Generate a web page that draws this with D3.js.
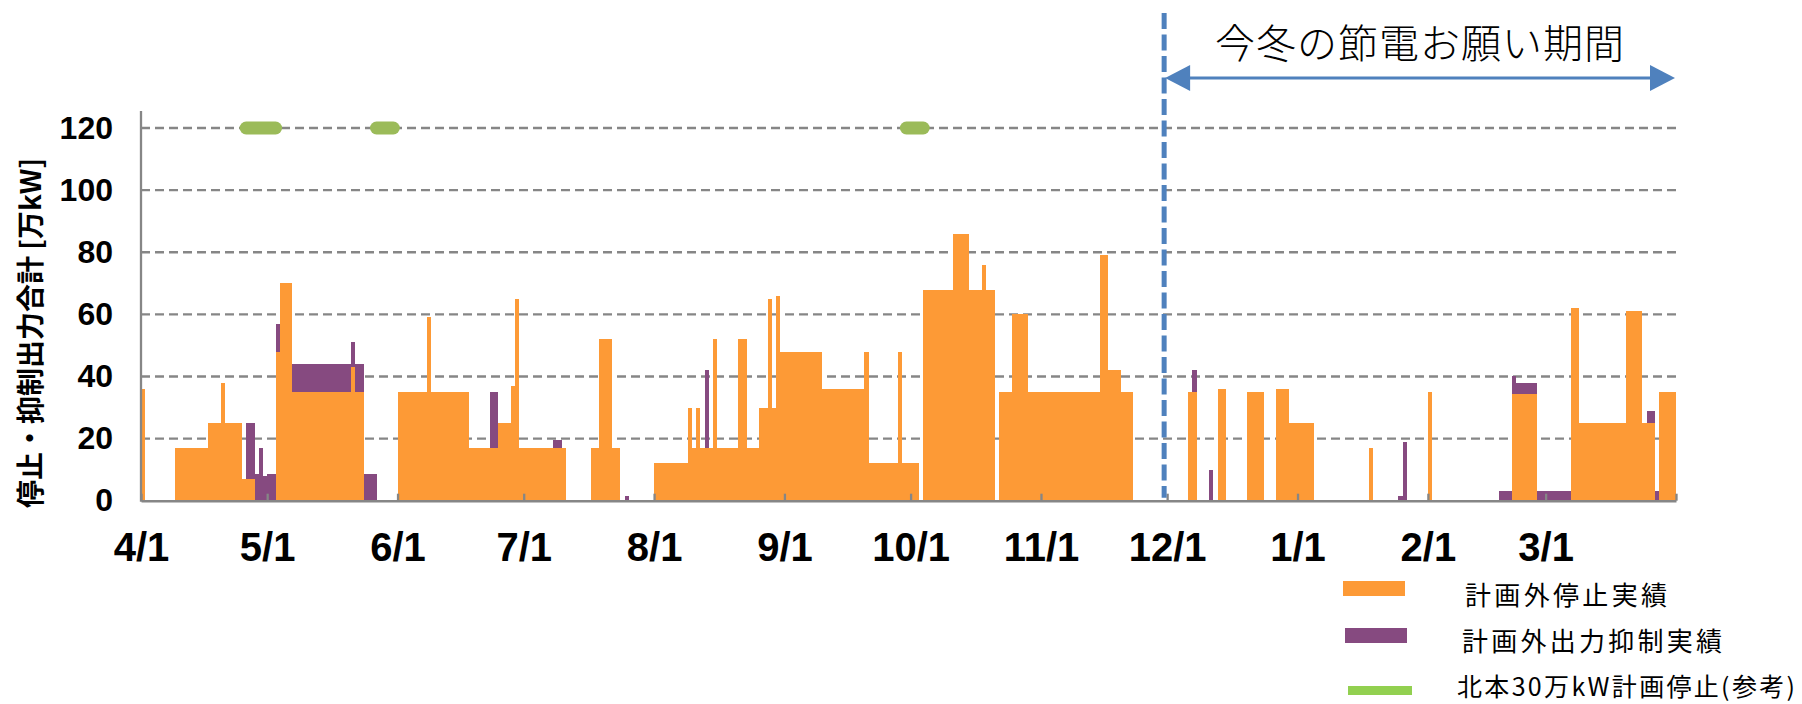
<!DOCTYPE html>
<html><head><meta charset="utf-8">
<script src="https://cdn.jsdelivr.net/npm/d3@7"></script>
<style>body{margin:0;background:#fff}svg{display:block}</style>
</head><body>
<svg id="chart" width="1802" height="704"></svg>
<script>
// ---- data ----
// 計画外停止実績 : [start (inclusive), end (exclusive), 万kW]
const outageRuns = [
 ["2012-04-01","2012-04-02",36],
 ["2012-04-09","2012-04-17",17],
 ["2012-04-17","2012-04-20",25],
 ["2012-04-20","2012-04-21",38],
 ["2012-04-21","2012-04-25",25],
 ["2012-04-25","2012-04-28",7],
 ["2012-05-03","2012-05-04",48],
 ["2012-05-04","2012-05-07",70],
 ["2012-05-07","2012-05-21",35],
 ["2012-05-21","2012-05-22",43],
 ["2012-05-22","2012-05-24",35],
 ["2012-06-01","2012-06-08",35],
 ["2012-06-08","2012-06-09",59],
 ["2012-06-09","2012-06-18",35],
 ["2012-06-18","2012-06-25",17],
 ["2012-06-25","2012-06-28",25],
 ["2012-06-28","2012-06-29",37],
 ["2012-06-29","2012-06-30",65],
 ["2012-06-30","2012-07-11",17],
 ["2012-07-17","2012-07-19",17],
 ["2012-07-19","2012-07-22",52],
 ["2012-07-22","2012-07-24",17],
 ["2012-08-01","2012-08-09",12],
 ["2012-08-09","2012-08-10",30],
 ["2012-08-10","2012-08-11",17],
 ["2012-08-11","2012-08-12",30],
 ["2012-08-12","2012-08-15",17],
 ["2012-08-15","2012-08-16",52],
 ["2012-08-16","2012-08-21",17],
 ["2012-08-21","2012-08-23",52],
 ["2012-08-23","2012-08-26",17],
 ["2012-08-26","2012-08-28",30],
 ["2012-08-28","2012-08-29",65],
 ["2012-08-29","2012-08-30",30],
 ["2012-08-30","2012-08-31",66],
 ["2012-08-31","2012-09-10",48],
 ["2012-09-10","2012-09-20",36],
 ["2012-09-20","2012-09-21",48],
 ["2012-09-21","2012-09-28",12],
 ["2012-09-28","2012-09-29",48],
 ["2012-09-29","2012-10-03",12],
 ["2012-10-04","2012-10-11",68],
 ["2012-10-11","2012-10-15",86],
 ["2012-10-15","2012-10-18",68],
 ["2012-10-18","2012-10-19",76],
 ["2012-10-19","2012-10-21",68],
 ["2012-10-22","2012-10-25",35],
 ["2012-10-25","2012-10-29",60],
 ["2012-10-29","2012-11-15",35],
 ["2012-11-15","2012-11-17",79],
 ["2012-11-17","2012-11-20",42],
 ["2012-11-20","2012-11-23",35],
 ["2012-12-06","2012-12-08",35],
 ["2012-12-13","2012-12-15",36],
 ["2012-12-20","2012-12-24",35],
 ["2012-12-27","2012-12-30",36],
 ["2012-12-30","2013-01-05",25],
 ["2013-01-18","2013-01-19",17],
 ["2013-02-01","2013-02-02",35],
 ["2013-02-21","2013-02-27",34.5],
 ["2013-03-07","2013-03-09",62],
 ["2013-03-09","2013-03-20",25],
 ["2013-03-20","2013-03-24",61],
 ["2013-03-24","2013-03-27",25],
 ["2013-03-28","2013-04-01",35]
];
// 計画外出力抑制実績 (stacked on top of 停止)
const curtailRuns = [
 ["2012-04-26","2012-04-28",18],
 ["2012-04-28","2012-04-29",8.5],
 ["2012-04-29","2012-04-30",17],
 ["2012-04-30","2012-05-01",8],
 ["2012-05-01","2012-05-03",8.5],
 ["2012-05-03","2012-05-04",9],
 ["2012-05-07","2012-05-21",9],
 ["2012-05-21","2012-05-22",8],
 ["2012-05-22","2012-05-24",9],
 ["2012-05-24","2012-05-27",8.5],
 ["2012-06-23","2012-06-25",18],
 ["2012-07-08","2012-07-10",2.5],
 ["2012-07-25","2012-07-26",1.5],
 ["2012-08-13","2012-08-14",25],
 ["2012-12-07","2012-12-08",7],
 ["2012-12-11","2012-12-12",10],
 ["2013-01-25","2013-01-26",1.5],
 ["2013-01-26","2013-01-27",19],
 ["2013-02-18","2013-02-21",3],
 ["2013-02-21","2013-02-22",5.5],
 ["2013-02-22","2013-02-27",3.5],
 ["2013-02-27","2013-03-07",3],
 ["2013-03-25","2013-03-27",4],
 ["2013-03-27","2013-03-28",3]
];
// 北本30万kW計画停止(参考) periods, drawn at the 120 level
const plannedRuns = [
 ["2012-04-26","2012-05-03"],
 ["2012-05-27","2012-05-31"],
 ["2012-09-30","2012-10-04"]
];
const plannedLevel = 120;
const monthTicks = ["2012-04-01","2012-05-01","2012-06-01","2012-07-01","2012-08-01","2012-09-01","2012-10-01","2012-11-01","2012-12-01","2013-01-01","2013-02-01","2013-03-01","2013-04-01"];
const monthLabels = ["4/1","5/1","6/1","7/1","8/1","9/1","10/1","11/1","12/1","1/1","2/1","3/1",""];
const yTicks = [0,20,40,60,80,100,120];
const seriesNames = ["計画外停止実績","計画外出力抑制実績","北本30万kW計画停止(参考)"];
const periodStart = "2012-12-01", periodEnd = "2013-04-01";
const periodTitle = "今冬の節電お願い期間";
const yTitle = "停止・抑制出力合計 [万kW]";

// ---- colours ----
const C_ORANGE = "#FD9A36", C_PURPLE = "#864A80", C_GREEN = "#9BBB59", C_GREEN_LEG = "#92D050",
      C_BLUE = "#4F81BD", C_AXIS = "#868686";

const parse = d3.timeParse("%Y-%m-%d");
const svg = d3.select("#chart");
const x = d3.scaleTime().domain([parse("2012-04-01"), parse("2013-04-01")]).range([141, 1676]);
const y = d3.scaleLinear().domain([0, 120]).range([500.7, 128]);

// gridlines
svg.append("g").selectAll("line").data(yTicks.filter(v => v > 0)).join("line")
  .attr("x1", x.range()[0]).attr("x2", x.range()[1])
  .attr("y1", d => y(d)).attr("y2", d => y(d))
  .attr("stroke", C_AXIS).attr("stroke-width", 2.4).attr("stroke-dasharray", "9,5");

// orange runs
const outage = outageRuns.map(r => ({s: parse(r[0]), e: parse(r[1]), v: r[2]}));
function baseAt(date) {
  const r = outage.find(o => o.s <= date && date < o.e);
  return r ? r.v : 0;
}
svg.append("g").selectAll("rect").data(outage).join("rect")
  .attr("x", d => x(d.s)).attr("width", d => x(d.e) - x(d.s))
  .attr("y", d => y(d.v)).attr("height", d => y(0) - y(d.v))
  .attr("fill", C_ORANGE).attr("shape-rendering", "crispEdges");

const curtail = curtailRuns.map(r => { const s = parse(r[0]); const b = baseAt(s); return {s, e: parse(r[1]), b, t: b + r[2]}; });
svg.append("g").selectAll("rect").data(curtail).join("rect")
  .attr("x", d => x(d.s)).attr("width", d => x(d.e) - x(d.s))
  .attr("y", d => y(d.t)).attr("height", d => y(d.b) - y(d.t))
  .attr("fill", C_PURPLE).attr("shape-rendering", "crispEdges");

// y axis
svg.append("line").attr("x1", x.range()[0]).attr("x2", x.range()[0]).attr("y1", 111).attr("y2", y(0) + 1)
  .attr("stroke", C_AXIS).attr("stroke-width", 2.3);
const yAxis = svg.append("g").attr("transform", `translate(${x.range()[0]},0)`)
  .call(d3.axisLeft(y).tickValues(yTicks).tickSize(0).tickPadding(28).tickFormat(d3.format("d")));
yAxis.select(".domain").remove();
yAxis.selectAll("text").attr("font-family", "'Liberation Sans', Arial, sans-serif")
  .attr("font-size", 32).attr("font-weight", "bold").attr("fill", "#000");

// x axis
const xAxis = svg.append("g").attr("transform", `translate(0,${y(0)})`)
  .call(d3.axisBottom(x).tickValues(monthTicks.map(parse)).tickFormat((d, i) => monthLabels[i])
    .tickSizeInner(-7).tickSizeOuter(0).tickPadding(32));
xAxis.select(".domain").attr("stroke", C_AXIS).attr("stroke-width", 2.6);
xAxis.selectAll(".tick line").attr("stroke", C_AXIS).attr("stroke-width", 2.3);
xAxis.selectAll("text").attr("font-family", "'Liberation Sans', Arial, sans-serif")
  .attr("font-size", 40).attr("font-weight", "bold").attr("fill", "#000");

// y title
svg.append("text").attr("transform", `translate(29,333) rotate(-90)`)
  .attr("text-anchor", "middle").attr("dominant-baseline", "central")
  .attr("font-family", "'Noto Sans CJK JP', sans-serif").attr("font-weight", "bold").attr("font-size", 28)
  .attr("xml:space", "preserve")
  .text(yTitle);

// planned outage (green)
svg.append("g").selectAll("line").data(plannedRuns).join("line")
  .attr("x1", d => x(parse(d[0]))).attr("x2", d => x(parse(d[1])))
  .attr("y1", y(plannedLevel)).attr("y2", y(plannedLevel))
  .attr("stroke", C_GREEN).attr("stroke-width", 13).attr("stroke-linecap", "round");

// winter period marker
const px0 = x(parse(periodStart)) - 3, px1 = x(parse(periodEnd));
svg.append("line").attr("x1", px0).attr("x2", px0).attr("y1", 13).attr("y2", y(0) - 3)
  .attr("stroke", C_BLUE).attr("stroke-width", 5).attr("stroke-dasharray", "16,5.5");
const ay = 78;
svg.append("line").attr("x1", px0 + 20).attr("x2", px1 - 20).attr("y1", ay).attr("y2", ay)
  .attr("stroke", C_BLUE).attr("stroke-width", 3);
svg.append("path").attr("d", `M${px0+1},${ay} L${px0+26},${ay-13} L${px0+26},${ay+13} Z`).attr("fill", C_BLUE);
svg.append("path").attr("d", `M${px1-1},${ay} L${px1-26},${ay-13} L${px1-26},${ay+13} Z`).attr("fill", C_BLUE);
svg.append("text").attr("x", (px0 + px1) / 2).attr("y", 41)
  .attr("text-anchor", "middle").attr("dominant-baseline", "central")
  .attr("font-family", "'Noto Sans CJK JP', serif").attr("font-weight", 300).attr("font-size", 40)
  .attr("letter-spacing", 1).text(periodTitle);

// legend
const legend = svg.append("g");
const legY = [588.5, 635.5, 690.5];
const legTextX = [1465, 1462, 1457];
const legTextY = [593, 639, 685];
const legTextW = [202, 260, 338];
const legTextSize = [26, 26, 25];
legend.append("rect").attr("x", 1343).attr("y", legY[0] - 7.5).attr("width", 62).attr("height", 15).attr("fill", C_ORANGE);
legend.append("rect").attr("x", 1345).attr("y", legY[1] - 7.5).attr("width", 62).attr("height", 15).attr("fill", C_PURPLE);
legend.append("line").attr("x1", 1348).attr("x2", 1412).attr("y1", legY[2]).attr("y2", legY[2]).attr("stroke", C_GREEN_LEG).attr("stroke-width", 9);
legend.selectAll("text").data(seriesNames).join("text")
  .attr("x", (d, i) => legTextX[i]).attr("y", (d, i) => legTextY[i])
  .attr("dominant-baseline", "central")
  .attr("font-family", "'Noto Sans CJK JP', sans-serif").attr("font-size", (d, i) => legTextSize[i])
  .attr("textLength", (d, i) => legTextW[i]).attr("lengthAdjust", "spacing")
  .text(d => d);
</script>
</body></html>
